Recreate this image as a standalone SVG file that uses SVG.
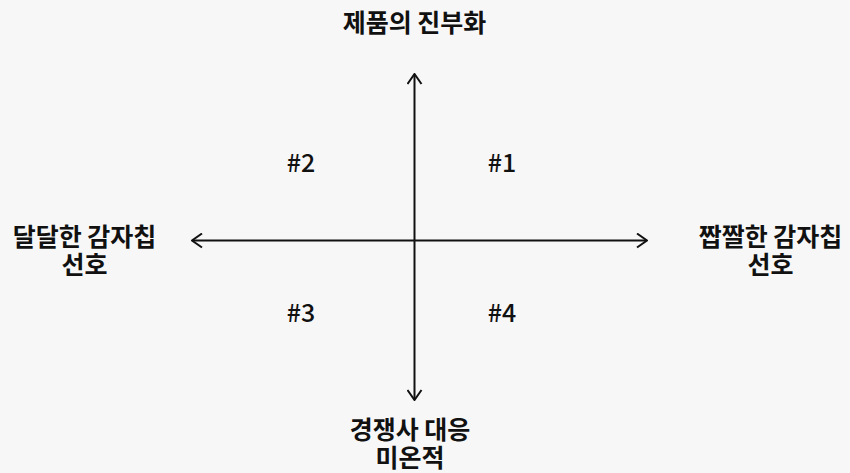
<svg xmlns="http://www.w3.org/2000/svg" width="850" height="473" viewBox="0 0 850 473">
<style>
.t{font-family:"Noto Sans CJK KR","Noto Sans",sans-serif;font-size:25px;font-weight:600;fill:#111;text-anchor:middle}
.h{font-family:"Noto Sans CJK KR","Noto Sans",sans-serif;font-size:25px;font-weight:500;fill:#111;text-anchor:middle}
.ax{stroke:#111;stroke-width:2;fill:none}
</style>
<defs>
<marker id="ah" viewBox="0 0 12 16" refX="11" refY="8" markerWidth="12" markerHeight="16" markerUnits="userSpaceOnUse" orient="auto">
<path d="M1,1 L11,8 L1,15" fill="none" stroke="#111" stroke-width="2"/>
</marker>
</defs>
<rect width="850" height="473" fill="#f7f7f7"/>
<g id="connectors">
<line class="ax" x1="414.5" y1="240.5" x2="414.5" y2="74" marker-end="url(#ah)"/>
<line class="ax" x1="414.5" y1="240.5" x2="414.5" y2="400" marker-end="url(#ah)"/>
<line class="ax" x1="414.5" y1="240.5" x2="192" y2="240.5" marker-end="url(#ah)"/>
<line class="ax" x1="414.5" y1="240.5" x2="647" y2="240.5" marker-end="url(#ah)"/>
</g>
<g id="top"><text class="t" x="414.5" y="32">제품의 진부화</text></g>
<g id="left"><text class="t" x="84.5" y="246"><tspan x="84.5">달달한 감자칩</tspan><tspan x="84.5" dy="28">선호</tspan></text></g>
<g id="right"><text class="t" x="770.5" y="246"><tspan x="770.5">짭짤한 감자칩</tspan><tspan x="770.5" dy="28">선호</tspan></text></g>
<g id="bottom"><text class="t" x="410" y="439"><tspan x="410">경쟁사 대응</tspan><tspan x="410" dy="28">미온적</tspan></text></g>
<g id="q1"><text class="h" x="502" y="172">#1</text></g>
<g id="q2"><text class="h" x="301" y="172">#2</text></g>
<g id="q3"><text class="h" x="301" y="322">#3</text></g>
<g id="q4"><text class="h" x="502" y="322">#4</text></g>
</svg>
